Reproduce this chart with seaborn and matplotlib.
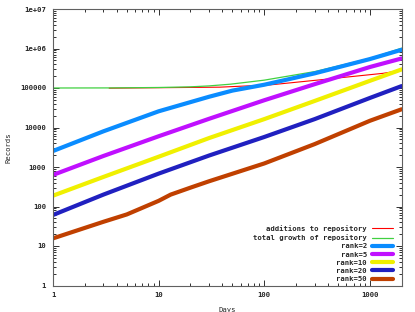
import numpy as np
import pandas as pd
import matplotlib
matplotlib.use("Agg")
import matplotlib.pyplot as plt
from matplotlib.ticker import LogLocator, NullFormatter
import seaborn as sns

# values (days, records)
add_days = [3.4, 38, 114, 330, 1330, 2000]
add_vals = [99000, 105000, 120000, 160000, 235000, 280000]

total_days = [1, 3.5, 10, 20, 30, 48, 100, 300, 1000, 2000]
total_vals = [100000, 100500, 103000, 107000, 113000, 125000, 158000, 260000, 560000, 1020000]

r2_days = [1, 3, 10, 30, 50, 100, 300, 1000, 2000]
r2_vals = [2540, 8000, 25700, 60000, 86000, 121000, 235000, 540000, 930000]

r5_days = [1, 3, 10, 30, 100, 300, 1000, 2000]
r5_vals = [630, 1900, 6000, 16600, 49000, 125000, 340000, 560000]

r10_days = [1, 3, 10, 30, 100, 300, 1000, 2000]
r10_vals = [188, 560, 1820, 5400, 16300, 47000, 152000, 296000]

r20_days = [1, 3, 10, 30, 100, 300, 1000, 2000]
r20_vals = [61, 200, 680, 1950, 5750, 16300, 56000, 112000]

r50_days = [1, 3, 5, 10, 13, 20, 30, 100, 300, 1000, 2000]
r50_vals = [15.6, 41, 63, 139, 200, 300, 435, 1230, 3800, 14800, 29000]

series = [
    ("additions to repository", add_days, add_vals, "#ff0000", 0.8),
    ("total growth of repository", total_days, total_vals, "#40d040", 0.9),
    ("rank=2", r2_days, r2_vals, "#0a8cff", 3.0),
    ("rank=5", r5_days, r5_vals, "#c010ff", 3.0),
    ("rank=10", r10_days, r10_vals, "#f0f000", 3.0),
    ("rank=20", r20_days, r20_vals, "#2020c0", 3.0),
    ("rank=50", r50_days, r50_vals, "#c04000", 3.0),
]

ytick_vals = [1, 10, 100, 1000, 10000, 100000, 1e6, 1e7]
ytick_labels = ["1", "10", "100", "1000", "10000", "100000", "1e+06", "1e+07"]
xtick_vals = [1, 10, 100, 1000]
xtick_labels = ["1", "10", "100", "1000"]

sns.set_style("ticks")
plt.rcParams["font.family"] = ["DejaVu Sans Mono"]
plt.rcParams["font.weight"] = "bold"
fs = 5.2

fig = plt.figure(figsize=(4.15, 3.12), dpi=100)
ax = fig.add_axes([53 / 415, 1 - 285.5 / 312, 348.7 / 415, 276.5 / 312])

for name, d, v, c, lw in series:
    df = pd.DataFrame({"Days": d, "Records": v})
    sns.lineplot(data=df, x="Days", y="Records", ax=ax, color=c, linewidth=lw,
                 label=name, estimator=None, sort=False)

ax.set_xscale("log")
ax.set_yscale("log")
ax.set_xlim(1, 2000)
ax.set_ylim(1, 1e7)
ax.set_xticks(xtick_vals, xtick_labels)
ax.set_yticks(ytick_vals, ytick_labels)
ax.xaxis.set_minor_locator(LogLocator(base=10, subs=np.arange(2, 10), numticks=100))
ax.yaxis.set_minor_locator(LogLocator(base=10, subs=np.arange(2, 10), numticks=100))
ax.xaxis.set_minor_formatter(NullFormatter())
ax.yaxis.set_minor_formatter(NullFormatter())
ax.tick_params(which="both", direction="in", top=True, right=True, labelsize=fs,
               color="#303030", width=0.7)
ax.tick_params(which="major", length=4, pad=5)
ax.tick_params(which="minor", length=2)
for s in ax.spines.values():
    s.set_visible(True)
    s.set_color("#606060")
    s.set_linewidth(0.8)

ax.set_xlabel("Days", fontsize=fs, labelpad=6)
ax.set_ylabel("Records", fontsize=fs, labelpad=6)

leg = ax.legend(loc="lower right", bbox_to_anchor=(0.975, 0.012), markerfirst=False,
                frameon=False, fontsize=fs, handlelength=2.9, handletextpad=0.7,
                labelspacing=0.3, borderpad=0, borderaxespad=0)

fig.savefig("out.png", dpi=100)
